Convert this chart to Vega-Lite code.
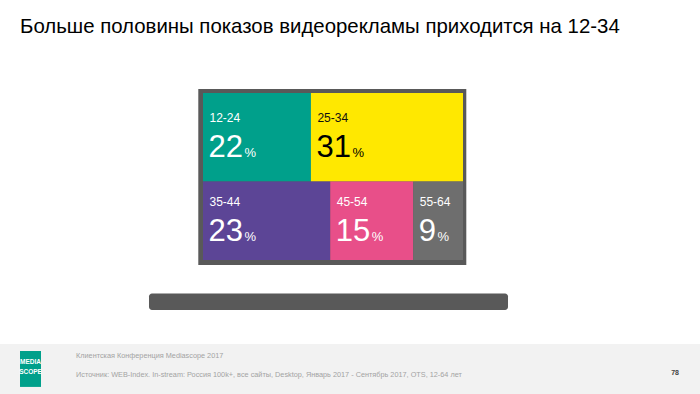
{
  "$schema": "https://vega.github.io/schema/vega-lite/v6.json",
  "width": 260,
  "height": 167,
  "autosize": {"type": "none"},
  "padding": {"left": 203, "top": 93, "right": 237, "bottom": 134},
  "background": "white",
  "config": {"view": {"stroke": null}, "font": "Liberation Sans", "axis": {"disable": true}},
  "title": {"text": "Больше половины показов видеорекламы приходится на 12-34", "anchor": "start", "frame": "group", "dx": -183, "offset": 52, "fontSize": 20.4, "fontWeight": "normal", "color": "#000000", "font": "Liberation Sans"},
  "datasets": {
    "cells": [
      {"age": "12-24", "share": 22, "row": 1, "order": 1},
      {"age": "25-34", "share": 31, "row": 1, "order": 2},
      {"age": "35-44", "share": 23, "row": 2, "order": 3},
      {"age": "45-54", "share": 15, "row": 2, "order": 4},
      {"age": "55-64", "share": 9, "row": 2, "order": 5}
    ],
    "one": [{}]
  },
  "layer": [
    {
      "data": {"name": "one"},
      "mark": {"type": "rect", "color": "#f2f2f2"},
      "encoding": {
        "x": {"datum": -0.79, "type": "quantitative", "scale": {"domain": [0, 1], "nice": false, "zero": false}},
        "x2": {"datum": 1.92},
        "y": {"datum": 150.3, "type": "quantitative", "scale": {"domain": [0, 100], "nice": false, "zero": false, "reverse": true}},
        "y2": {"datum": 182}
      }
    },
    {
      "data": {"name": "one"},
      "mark": {"type": "rect", "color": "#00a08b"},
      "encoding": {
        "x": {"datum": -0.7038, "type": "quantitative", "scale": {"domain": [0, 1], "nice": false, "zero": false}},
        "x2": {"datum": -0.6231},
        "y": {"datum": 154.5, "type": "quantitative", "scale": {"domain": [0, 100], "nice": false, "zero": false, "reverse": true}},
        "y2": {"datum": 176.0}
      }
    },
    {
      "data": {"name": "one"},
      "mark": {"type": "text", "color": "white", "fontSize": 6.5, "fontWeight": "bold", "align": "center", "baseline": "middle"},
      "encoding": {
        "x": {"datum": -0.6634, "type": "quantitative", "scale": {"domain": [0, 1], "nice": false, "zero": false}},
        "y": {"datum": 161, "type": "quantitative", "scale": {"domain": [0, 100], "nice": false, "zero": false, "reverse": true}},
        "text": {"value": "MEDIA"}
      }
    },
    {
      "data": {"name": "one"},
      "mark": {"type": "text", "color": "white", "fontSize": 6.5, "fontWeight": "bold", "align": "center", "baseline": "middle"},
      "encoding": {
        "x": {"datum": -0.6634, "type": "quantitative", "scale": {"domain": [0, 1], "nice": false, "zero": false}},
        "y": {"datum": 167, "type": "quantitative", "scale": {"domain": [0, 100], "nice": false, "zero": false, "reverse": true}},
        "text": {"value": "SCOPE"}
      }
    },
    {
      "data": {"name": "one"},
      "mark": {"type": "text", "color": "#a3a3a3", "fontSize": 7.3, "align": "left", "baseline": "middle"},
      "encoding": {
        "x": {"datum": -0.4885, "type": "quantitative", "scale": {"domain": [0, 1], "nice": false, "zero": false}},
        "y": {"datum": 157.6, "type": "quantitative", "scale": {"domain": [0, 100], "nice": false, "zero": false, "reverse": true}},
        "text": {"value": "Клиентская Конференция Mediascope 2017"}
      }
    },
    {
      "data": {"name": "one"},
      "mark": {"type": "text", "color": "#a3a3a3", "fontSize": 7.3, "align": "left", "baseline": "middle"},
      "encoding": {
        "x": {"datum": -0.4885, "type": "quantitative", "scale": {"domain": [0, 1], "nice": false, "zero": false}},
        "y": {"datum": 168.9, "type": "quantitative", "scale": {"domain": [0, 100], "nice": false, "zero": false, "reverse": true}},
        "text": {"value": "Источник: WEB-Index. In-stream: Россия 100k+, все сайты, Desktop, Январь 2017 - Сентябрь 2017, OTS, 12-64 лет"}
      }
    },
    {
      "data": {"name": "one"},
      "mark": {"type": "text", "color": "#444444", "fontSize": 7, "fontWeight": "bold", "align": "right", "baseline": "middle"},
      "encoding": {
        "x": {"datum": 1.8308, "type": "quantitative", "scale": {"domain": [0, 1], "nice": false, "zero": false}},
        "y": {"datum": 167.7, "type": "quantitative", "scale": {"domain": [0, 100], "nice": false, "zero": false, "reverse": true}},
        "text": {"value": "78"}
      }
    },
    {
      "data": {"name": "one"},
      "mark": {"type": "rect", "color": "#595959", "cornerRadius": 3},
      "encoding": {
        "x": {"datum": -0.2077, "type": "quantitative", "scale": {"domain": [0, 1], "nice": false, "zero": false}},
        "x2": {"datum": 1.1731},
        "y": {"datum": 120.1, "type": "quantitative", "scale": {"domain": [0, 100], "nice": false, "zero": false, "reverse": true}},
        "y2": {"datum": 129.9}
      }
    },
    {
      "data": {"name": "one"},
      "mark": {"type": "rect", "color": "#595959"},
      "encoding": {
        "x": {"datum": -0.0181, "type": "quantitative", "scale": {"domain": [0, 1], "nice": false, "zero": false}},
        "x2": {"datum": 1.0127},
        "y": {"datum": -2.4, "type": "quantitative", "scale": {"domain": [0, 100], "nice": false, "zero": false, "reverse": true}},
        "y2": {"datum": 103.0}
      }
    },
    {
      "data": {"name": "cells"},
      "transform": [
        {"stack": "share", "groupby": ["row"], "sort": [{"field": "order"}], "offset": "normalize", "as": ["x0", "x1"]},
        {"joinaggregate": [{"op": "sum", "field": "share", "as": "rowTotal"}], "groupby": ["row"]},
        {"window": [{"op": "sum", "field": "share", "as": "yEnd"}], "sort": [{"field": "row"}], "frame": [null, 0]},
        {"calculate": "datum.yEnd - datum.rowTotal", "as": "yStart"}
      ],
      "encoding": {
        "x": {"field": "x0", "type": "quantitative", "scale": {"domain": [0, 1], "nice": false, "zero": false}},
        "y": {"field": "yStart", "type": "quantitative", "scale": {"domain": [0, 100], "nice": false, "zero": false, "reverse": true}}
      },
      "layer": [
        {
          "mark": {"type": "rect"},
          "encoding": {
            "x2": {"field": "x1"},
            "y2": {"field": "yEnd"},
            "color": {"field": "age", "type": "nominal", "legend": null,
              "scale": {"domain": ["12-24", "25-34", "35-44", "45-54", "55-64"], "range": ["#00a08b", "#ffe800", "#5c4596", "#e84f89", "#6e6e6e"]}}
          }
        },
        {
          "mark": {"type": "text", "align": "left", "baseline": "middle", "dx": 6.5, "dy": {"expr": "datum.row === 1 ? 25 : 20.5"}, "fontSize": 12},
          "encoding": {
            "text": {"field": "age"},
            "color": {"condition": {"test": "datum.age === '25-34'", "value": "#111111"}, "value": "#ffffff"}
          }
        },
        {
          "mark": {"type": "text", "align": "left", "baseline": "alphabetic", "dx": 5.5, "dy": {"expr": "datum.row === 1 ? 63.5 : 59"}, "fontSize": 31},
          "encoding": {
            "text": {"field": "share"},
            "color": {"condition": {"test": "datum.age === '25-34'", "value": "#000000"}, "value": "#ffffff"}
          }
        },
        {
          "mark": {"type": "text", "align": "left", "baseline": "alphabetic", "dx": {"expr": "7 + 17.3 * length(toString(datum.share))"}, "dy": {"expr": "datum.row === 1 ? 63.5 : 59"}, "fontSize": 13},
          "encoding": {
            "text": {"value": "%"},
            "color": {"condition": {"test": "datum.age === '25-34'", "value": "#000000"}, "value": "#ffffff"}
          }
        }
      ]
    }
  ]
}
